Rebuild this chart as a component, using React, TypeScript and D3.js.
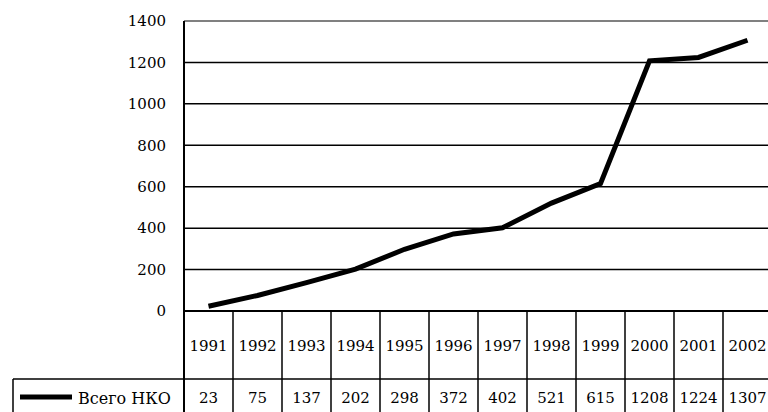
import React from "react";
import * as d3 from "d3";

const years = ["1991","1992","1993","1994","1995","1996","1997","1998","1999","2000","2001","2002"];
const values = [23, 75, 137, 202, 298, 372, 402, 521, 615, 1208, 1224, 1307];
const yTicks = [0, 200, 400, 600, 800, 1000, 1200, 1400];
const seriesName = "Всего НКО";

const W = 768, H = 412;
const left = 184, colW = 49;
const top = 21, zeroY = 311, headerBottom = 379, tableLeft = 13;
const font = "DejaVu Serif";

export default function App() {
  const x = d3.scaleBand<string>().domain(years).range([left, left + colW * years.length]).padding(0);
  const y = d3.scaleLinear().domain([0, 1400]).range([zeroY, top]);
  const line = d3.line<number>()
    .x((_, i) => (x(years[i]) as number) + x.bandwidth() / 2)
    .y(d => y(d));
  const bounds = years.map(yr => x(yr) as number).concat([(x(years[years.length - 1]) as number) + x.bandwidth()]);
  const ts = { fontFamily: font };
  return (
    <svg width={W} height={H} style={{ position: "absolute", left: 0, top: 0, background: "#fff" }}>
      {yTicks.filter(t => t > 0 && t < 1400).map(t => (
        <line key={t} x1={left} x2={W} y1={y(t)} y2={y(t)} stroke="#000" strokeWidth={1.5} />
      ))}
      <line x1={left} x2={W} y1={y(1400)} y2={y(1400)} stroke="#808080" strokeWidth={2} />
      {yTicks.map(t => (
        <text key={t} x={166} y={y(t)} dy="0.35em" textAnchor="end" style={ts} fontSize={15} fill="#000">{t}</text>
      ))}
      {bounds.map((b, i) => (
        <line key={i} x1={b} x2={b} y1={zeroY} y2={H} stroke="#000" strokeWidth={i === 0 ? 2 : 1.5} />
      ))}
      <line x1={left} x2={left} y1={top} y2={H} stroke="#000" strokeWidth={2} />
      <line x1={left} x2={W} y1={zeroY} y2={zeroY} stroke="#000" strokeWidth={2} />
      <line x1={tableLeft} x2={W} y1={headerBottom} y2={headerBottom} stroke="#000" strokeWidth={1.5} />
      <line x1={tableLeft} x2={tableLeft} y1={headerBottom} y2={H} stroke="#000" strokeWidth={1.5} />
      {years.map(yr => (
        <text key={yr} x={(x(yr) as number) + x.bandwidth() / 2} y={(zeroY + headerBottom) / 2 + 1} dy="0.35em" textAnchor="middle" style={ts} fontSize={15} fill="#000">{yr}</text>
      ))}
      {values.map((v, i) => (
        <text key={i} x={(x(years[i]) as number) + x.bandwidth() / 2} y={398} dy="0.35em" textAnchor="middle" style={ts} fontSize={15} fill="#000">{v}</text>
      ))}
      <line x1={20} x2={72} y1={397} y2={397} stroke="#000" strokeWidth={5} />
      <text x={78} y={398} dy="0.35em" style={ts} fontSize={16} fill="#000">{seriesName}</text>
      <path d={line(values) || ""} fill="none" stroke="#000" strokeWidth={5} strokeLinejoin="miter" />
    </svg>
  );
}
